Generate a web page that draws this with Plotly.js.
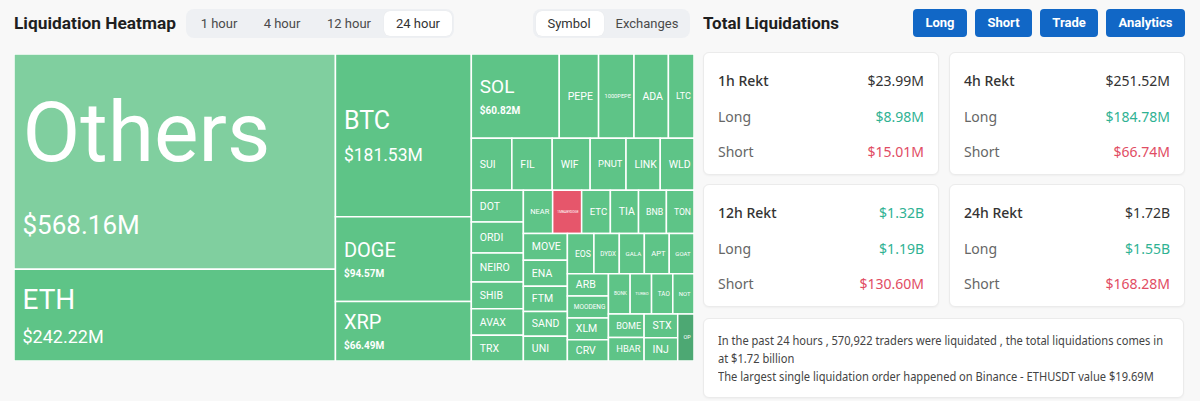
<!DOCTYPE html>
<html><head><meta charset="utf-8">
<script src="https://cdn.plot.ly/plotly-3.0.1.min.js"></script>
<style>
html,body{margin:0;padding:0}
body{width:1200px;height:401px;background:#f8f8f8;font-family:"Noto Sans","Open Sans",Roboto,sans-serif;overflow:hidden;position:relative;color:#222}
.abs{position:absolute}
.h1{font-family:Roboto,"Noto Sans",sans-serif;font-weight:700;font-size:17px;color:#1f1f1f;line-height:28px;top:9px;white-space:nowrap;transform-origin:left center}
.tabs{top:9px;height:29px;background:#eef0f3;border-radius:8px}
.sel{top:2px;height:25px;background:#fff;border-radius:6px;box-shadow:0 0 1px rgba(0,0,0,0.08)}
.tab{font-family:Roboto,sans-serif;top:0;height:29px;line-height:29px;font-size:13px;color:#4a4a4a;white-space:nowrap;transform:translateX(-50%)}
.btn{font-family:Roboto,sans-serif;top:9px;height:28px;line-height:28px;background:#1167c6;color:#fff;font-weight:700;font-size:13px;border-radius:4px;text-align:center}
.card{background:#fff;border:1px solid #ebebeb;border-radius:6px;box-shadow:0 1px 2px rgba(0,0,0,0.04);box-sizing:border-box}
.row{left:14px;right:14px;height:20px;line-height:20px;font-size:14px}
.row .l{position:absolute;left:0;color:#666}
.row .v{position:absolute;right:0;color:#333}
.row.head .l{color:#333;font-weight:500}
.g{color:#2fb293 !important}
.r{color:#e14c63 !important}
.note{position:absolute;left:14px;top:13px;font-size:12.5px;line-height:18px;color:#444;white-space:nowrap;transform-origin:left top}
</style></head><body>
<div class="abs h1" id="t1" style="left:14px">Liquidation Heatmap</div>
<div class="abs tabs" style="left:186px;width:268px">
  <div class="abs sel" style="left:198px;width:68px"></div>
  <div class="abs tab" style="left:33px">1 hour</div>
  <div class="abs tab" style="left:96px">4 hour</div>
  <div class="abs tab" style="left:163px">12 hour</div>
  <div class="abs tab" style="left:232px;color:#333">24 hour</div>
</div>
<div class="abs tabs" style="left:533px;width:157px">
  <div class="abs sel" style="left:3px;width:68px"></div>
  <div class="abs tab" style="left:36px;color:#333">Symbol</div>
  <div class="abs tab" style="left:114px">Exchanges</div>
</div>
<div class="abs h1" id="t2" style="left:703px">Total Liquidations</div>
<div class="abs btn" style="left:913px;width:54px">Long</div>
<div class="abs btn" style="left:975px;width:57px">Short</div>
<div class="abs btn" style="left:1040px;width:58px">Trade</div>
<div class="abs btn" style="left:1106px;width:79px">Analytics</div>

<div id="cards"></div>
<div class="abs card" style="left:703px;top:318px;width:481px;height:80px"><div class="note" id="note"></div></div>

<div id="tm" class="abs" style="left:14px;top:54px;width:680px;height:307px"></div>

<script>
// ---- data ----
const symbols = ["Others","ETH","BTC","DOGE","XRP","SOL","PEPE","1000PEPE","ADA","LTC",
  "SUI","FIL","WIF","PNUT","LINK","WLD","DOT","ORDI","NEIRO","SHIB","AVAX","TRX",
  "NEAR","1MBABYDOGE","ETC","TIA","BNB","TON","MOVE","ENA","FTM","SAND","UNI",
  "EOS","DYDX","GALA","APT","GOAT","ARB","MOODENG","XLM","CRV","BONK","TURBO","TAO","NOT",
  "BOME","HBAR","STX","INJ","OP"];
const liqValues = [568.16,242.22,181.53,94.57,66.49,60.82,27.2,24.5,23.8,17.7,
  17.3,17.2,16.2,15.3,14.6,14.4,13.6,13.2,12.4,11.5,11.3,11.0,
  10.4,10.3,10.2,10.0,9.9,9.8,9.7,9.4,9.1,9.0,8.9,
  8.8,8.4,8.3,8.25,8.2,7.5,7.4,7.3,7.2,7.15,7.05,7.0,6.98,
  6.95,6.85,6.6,6.4,6.3];
// long-dominated (1), short-dominated (-1), aggregate (0), strong long (2)
const sideFlags = [0,1,1,1,1,1,1,1,1,1, 1,1,1,1,1,1,1,1,1,1,1,1, 1,-1,1,1,1,1,1,1,1,1,1,
  1,1,1,1,1,1,1,1,1,1,1,1,1, 1,1,1,1,2];

const periods = ["1h Rekt","4h Rekt","12h Rekt","24h Rekt"];
const totals = ["$23.99M","$251.52M","$1.32B","$1.72B"];
const longs = ["$8.98M","$184.78M","$1.19B","$1.55B"];
const shorts = ["$15.01M","$66.74M","$130.60M","$168.28M"];
const totalGreen = [false,false,true,false];
const noteLines = ["In the past 24 hours , 570,922 traders were liquidated , the total liquidations comes in",
  "at $1.72 billion",
  "The largest single liquidation order happened on Binance - ETHUSDT value $19.69M"];

// ---- styles ----
const colorBySide = {"0":"#80cf9f","1":"#5ec487","-1":"#e6566b","2":"#4da873"};
// [base size (line spacing), label size, value size, bold value]
const bigText = {Others:[56,84,26,0],ETH:[26,28,18,0],BTC:[25,25,17.5,0],DOGE:[16,20,10,1],XRP:[15,20,10,1],SOL:[16,19,10,1]};
const PADL = '<span style="font-size:11px">\u00a0\u00a0</span>';

const colors = sideFlags.map(f => colorBySide[String(f)]);
const sizes = symbols.map(s => bigText[s] ? bigText[s][0] : 10.5);
const templates = symbols.map(s => {
  const b = bigText[s];
  if (!b) return PADL + '%{label}';
  const val = b[3] ? '<b>$%{value:.2f}M</b>' : '$%{value:.2f}M';
  return PADL + '<span style="font-size:'+b[1]+'px">%{label}</span><br>' + PADL + '<span style="font-size:'+b[2]+'px">'+val+'</span>';
});

Plotly.newPlot('tm', [{
  type:'treemap',
  labels: symbols,
  parents: symbols.map(() => ""),
  values: liqValues,
  sort: true,
  tiling: {packing:'squarify', squarifyratio:1.618034, pad:0},
  marker: {colors: colors, line: {color:'#ffffff', width:1.5}, pad:{t:0,l:0,r:0,b:0}},
  texttemplate: templates,
  textposition: 'middle left',
  textfont: {family:'Roboto, sans-serif', color:'#ffffff', size: sizes},
  pathbar: {visible:false},
  hoverinfo:'none'
}], {
  margin:{l:0,r:0,t:0,b:0}, width:680, height:307,
  paper_bgcolor:'rgba(0,0,0,0)', showlegend:false
}, {displayModeBar:false, staticPlot:true});

// ---- cards ----
const pos = [[703,52],[949,52],[703,184],[949,184]];
let html = '';
periods.forEach((p,i) => {
  html += '<div class="abs card" style="left:'+pos[i][0]+'px;top:'+pos[i][1]+'px;width:236px;height:123px">'
    + '<div class="abs row head" style="top:18px"><span class="l">'+p+'</span><span class="v'+(totalGreen[i]?' g':'')+'">'+totals[i]+'</span></div>'
    + '<div class="abs row" style="top:54px"><span class="l">Long</span><span class="v g">'+longs[i]+'</span></div>'
    + '<div class="abs row" style="top:89px"><span class="l">Short</span><span class="v r">'+shorts[i]+'</span></div>'
    + '</div>';
});
document.getElementById('cards').innerHTML = html;
const note = document.getElementById('note');
note.innerHTML = noteLines.map(t => '<div>'+t+'</div>').join('');

// fit text widths to the reference layout
function fitX(el, target){ const w = el.getBoundingClientRect().width; if (w > 0) el.style.transform = 'scaleX(' + (target / w) + ')'; }
fitX(document.getElementById('t1'), 162);
fitX(document.getElementById('t2'), 136);
const firstLine = note.firstChild;
const w1 = firstLine.getBoundingClientRect().width;
note.style.transform = 'scaleX(' + (445 / w1) + ')';
</script>
</body></html>
